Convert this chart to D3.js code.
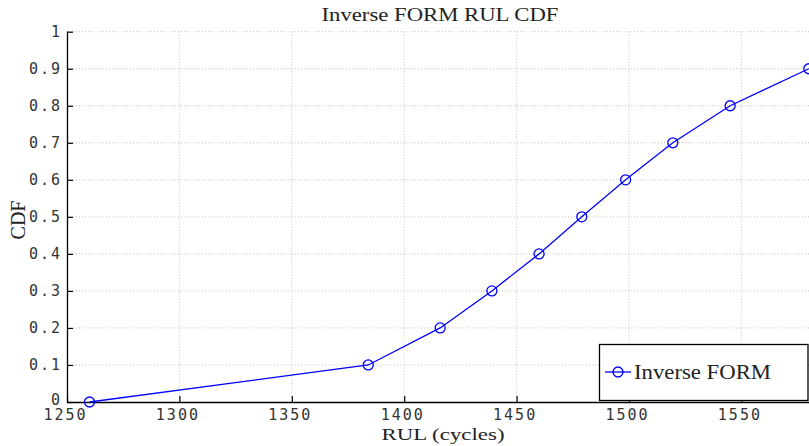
<!DOCTYPE html>
<html>
<head>
<meta charset="utf-8">
<script src="https://cdn.jsdelivr.net/npm/d3@7"></script>
<style>
  html, body { margin: 0; padding: 0; background: #fff; }
  svg { display: block; }
</style>
</head>
<body>
<svg id="chart" width="809" height="446"></svg>
<script>
// RUL values (cycles) at each CDF level from the inverse FORM analysis
const rulCycles = [1260, 1384, 1416, 1439, 1460, 1479, 1498.5, 1519.5, 1545, 1580];
const cdfLevels = [0, 0.1, 0.2, 0.3, 0.4, 0.5, 0.6, 0.7, 0.8, 0.9];
const xTicks = [1250, 1300, 1350, 1400, 1450, 1500, 1550];
const yTicks = [0, 0.1, 0.2, 0.3, 0.4, 0.5, 0.6, 0.7, 0.8, 0.9, 1];
const seriesName = "Inverse FORM";

const svg = d3.select("#chart");
const plotLeft = 67, plotBottom = 402, plotTop = 31.7;
const pxPer50 = 112.4;

const x = d3.scaleLinear().domain([1250, 1600]).range([plotLeft, plotLeft + pxPer50 * 7]);
const y = d3.scaleLinear().domain([0, 1]).range([plotBottom, plotTop]);

const tickFont = "'DejaVu Sans Mono', monospace";
const serif = "'Liberation Serif', 'DejaVu Serif', serif";

// dotted grid
const grid = svg.append("g");
grid.selectAll("line.gx").data(xTicks.slice(1)).join("line")
  .attr("x1", d => x(d)).attr("x2", d => x(d))
  .attr("y1", plotTop).attr("y2", plotBottom)
  .attr("stroke", "#c4c4c4").attr("stroke-width", 1).attr("stroke-dasharray", "1,2");
grid.selectAll("line.gy").data(yTicks.slice(1)).join("line")
  .attr("x1", plotLeft).attr("x2", 809)
  .attr("y1", d => y(d)).attr("y2", d => y(d))
  .attr("stroke", "#c4c4c4").attr("stroke-width", 1).attr("stroke-dasharray", "1,2");

// x axis with inward ticks
const xAxis = d3.axisBottom(x).tickValues(xTicks).tickSizeInner(-6).tickSizeOuter(0).tickPadding(7).tickFormat(d3.format("d"));
const gx = svg.append("g").attr("transform", `translate(0,${plotBottom})`).call(xAxis);
gx.select(".domain").attr("d", `M${plotLeft},0.5H809`).attr("stroke", "#000").attr("stroke-width", 1.3);
gx.selectAll(".tick line").attr("stroke", "#000").attr("stroke-width", 1.2);
gx.selectAll(".tick text").attr("font-family", tickFont).attr("font-size", 15)
  .attr("letter-spacing", "2px").attr("fill", "#333").attr("dx", "-2px");

// y axis with inward ticks
const yAxis = d3.axisLeft(y).tickValues(yTicks).tickSizeInner(-6).tickSizeOuter(0).tickPadding(5)
  .tickFormat(d => d === 0 ? "0" : d === 1 ? "1" : d3.format(".1f")(d));
const gy = svg.append("g").attr("transform", `translate(${plotLeft},0)`).call(yAxis);
gy.select(".domain").attr("d", `M0.5,${plotBottom}V${plotTop}`).attr("stroke", "#000").attr("stroke-width", 1.3);
gy.selectAll(".tick line").attr("stroke", "#000").attr("stroke-width", 1.2);
gy.selectAll(".tick text").attr("font-family", tickFont).attr("font-size", 15)
  .attr("letter-spacing", "2px").attr("fill", "#333");
// lift the zero label slightly so it clears the first x label
gy.selectAll(".tick text").filter(d => d === 0).attr("dy", "0.15em");

// series line and circle markers
const pts = rulCycles.map((r, i) => [r, cdfLevels[i]]);
svg.append("path").datum(pts)
  .attr("fill", "none").attr("stroke", "#0000ff").attr("stroke-width", 1.3)
  .attr("d", d3.line().x(d => x(d[0])).y(d => y(d[1])));
svg.append("g").selectAll("circle").data(pts).join("circle")
  .attr("cx", d => x(d[0])).attr("cy", d => y(d[1])).attr("r", 5)
  .attr("fill", "none").attr("stroke", "#0000ff").attr("stroke-width", 1.3);

// title and axis labels
svg.append("text").attr("x", 440).attr("y", 21).attr("text-anchor", "middle")
  .attr("font-family", serif).attr("font-size", 19).attr("fill", "#222")
  .attr("textLength", 237).attr("lengthAdjust", "spacingAndGlyphs")
  .text("Inverse FORM RUL CDF");
svg.append("text").attr("x", 443).attr("y", 440).attr("text-anchor", "middle")
  .attr("font-family", serif).attr("font-size", 17).attr("fill", "#222")
  .attr("textLength", 123).attr("lengthAdjust", "spacingAndGlyphs")
  .text("RUL (cycles)");
svg.append("text").attr("transform", "translate(25,220) rotate(-90)").attr("text-anchor", "middle")
  .attr("font-family", serif).attr("font-size", 20).attr("fill", "#222")
  .text("CDF");

// legend
const lg = svg.append("g");
lg.append("rect").attr("x", 599.5).attr("y", 344.5).attr("width", 208.5).attr("height", 56)
  .attr("fill", "#fff").attr("stroke", "#000").attr("stroke-width", 1.3);
lg.append("line").attr("x1", 605).attr("x2", 631).attr("y1", 372).attr("y2", 372)
  .attr("stroke", "#0000ff").attr("stroke-width", 1.3);
lg.append("circle").attr("cx", 618).attr("cy", 372).attr("r", 5)
  .attr("fill", "none").attr("stroke", "#0000ff").attr("stroke-width", 1.3);
lg.append("text").attr("x", 634).attr("y", 379)
  .attr("font-family", serif).attr("font-size", 20).attr("fill", "#222")
  .attr("textLength", 137).attr("lengthAdjust", "spacingAndGlyphs")
  .text(seriesName);
</script>
</body>
</html>
